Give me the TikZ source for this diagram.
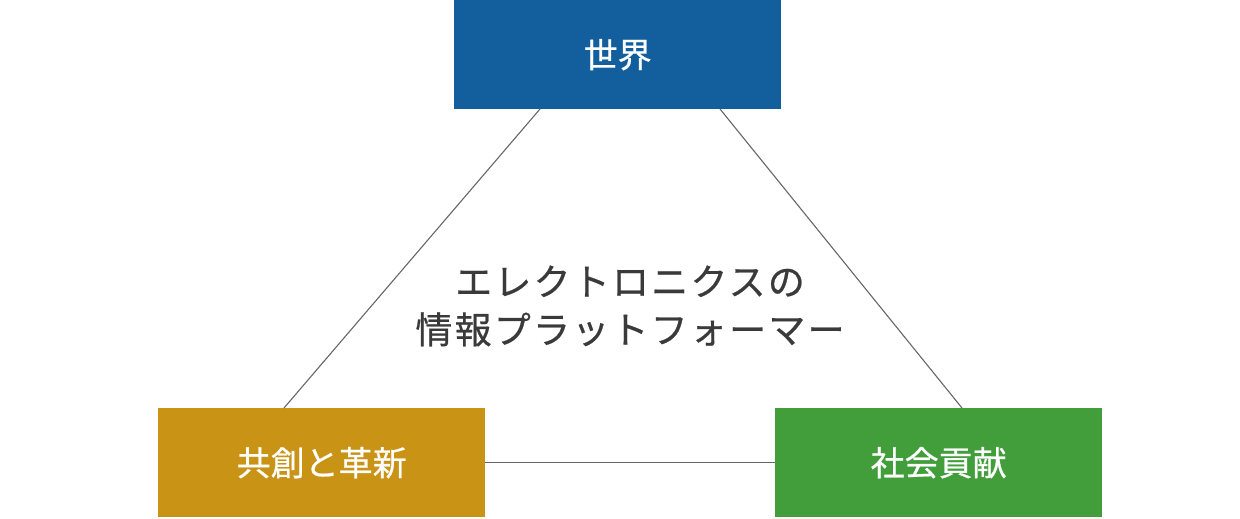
\documentclass[tikz,border=0pt]{standalone}
\usepackage{fontspec}
\newfontfamily\jp[FakeBold=0.6]{Noto Sans CJK JP}
\newfontfamily\jpsp[LetterSpace=6,FakeBold=0.6]{Noto Sans CJK JP}
\definecolor{boxblue}{HTML}{135F9D}
\definecolor{boxgold}{HTML}{C99316}
\definecolor{boxgreen}{HTML}{429E3A}
\definecolor{linegray}{HTML}{666666}
\definecolor{txtgray}{HTML}{3A3A3A}
\begin{document}
\begin{tikzpicture}[x=1pt,y=-1pt,
  box/.style={rectangle, inner sep=0pt, minimum width=327pt, minimum height=109pt, text=white, font=\jp\fontsize{34}{40}\selectfont},
  link/.style={draw=linegray, line width=1.1pt}]
\useasboundingbox (0,0) rectangle (1240,519);
\node[box, fill=boxblue, anchor=north west] (world) at (454,0) {世界};
\node[box, fill=boxgold, anchor=north west] (cocreate) at (158,408) {共創と革新};
\node[box, fill=boxgreen, anchor=north west] (social) at (775,408) {社会貢献};
\coordinate (wl) at (540,109);
\coordinate (wr) at (720,109);
\coordinate (cl) at (284,408);
\coordinate (sr) at (962,408);
\draw[link] (wl) -- (cl);
\draw[link] (wr) -- (sr);
\draw[link] (cocreate.east) -- (social.west);
\node[align=center, text=txtgray, font=\jpsp\fontsize{37}{48}\selectfont] (center) at (630,306) {エレクトロニクスの\\情報プラットフォーマー};
\end{tikzpicture}
\end{document}
